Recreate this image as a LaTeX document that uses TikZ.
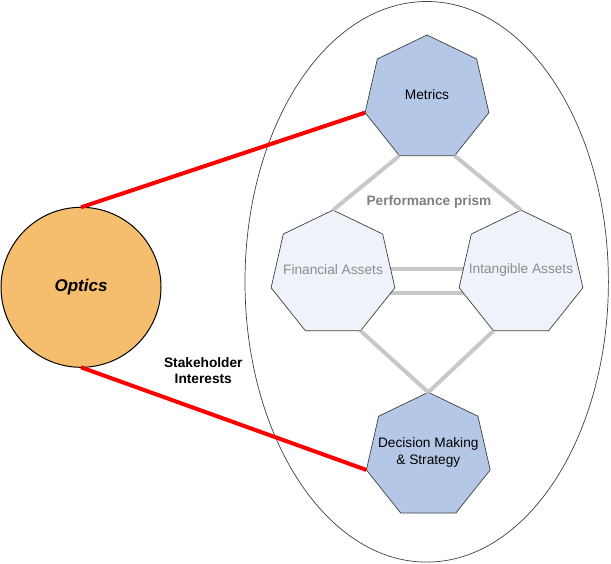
\documentclass[tikz,border=0pt]{standalone}
\usepackage{fontspec}
\setmainfont{Liberation Sans}
\usetikzlibrary{shapes.geometric,backgrounds,calc}
\definecolor{optfill}{HTML}{F5BE6E}
\definecolor{keyfill}{HTML}{B4C7E6}
\definecolor{softfill}{HTML}{EEF2F9}
\definecolor{prismgray}{HTML}{C8C8C8}
\definecolor{softtext}{HTML}{8C8C8C}
\definecolor{titlegray}{HTML}{7F7F7F}
\definecolor{edgegray}{HTML}{404040}
\begin{document}
\begin{tikzpicture}[x=1pt,y=-1pt,
  hept/.style={regular polygon, regular polygon sides=7, minimum size=127pt, inner sep=0pt, outer sep=0pt, draw=edgegray, line width=0.7pt},
  keyhept/.style={hept, fill=keyfill},
  softhept/.style={hept, fill=softfill},
  txt/.style={font=\fontsize{13.7}{16.7}\selectfont, align=center, inner sep=0pt},
  btxt/.style={font=\fontsize{13.7}{15.7}\selectfont\bfseries, align=center, inner sep=0pt},
  redline/.style={draw=red, line width=4pt},
  prismline/.style={draw=prismgray, line width=4pt},
]
\useasboundingbox (0,0) rectangle (611,563);
\draw[line width=0.7pt, draw=edgegray] (426.7,281.8) ellipse [x radius=181.7, y radius=280.3];

\node[circle, minimum size=160pt, inner sep=0pt, outer sep=0pt, fill=optfill, draw=black, line width=1pt,
      font=\fontsize{17}{20}\selectfont\bfseries\itshape] (opt) at (81,287.3) {Optics};

\node[keyhept, label={[txt, yshift=3.5pt]center:Metrics}] (met) at (427,98.5) {};
\node[softhept, label={[txt, text=softtext, yshift=3.6pt]center:Financial Assets}] (fin) at (333,273.6) {};
\node[softhept, label={[txt, text=softtext, yshift=3.6pt]center:Intangible Assets}] (int) at (521,273.6) {};
\node[keyhept, label={[txt, yshift=3.5pt]center:Decision Making\\\& Strategy}] (dec) at (428.3,455.8) {};

\begin{scope}[on background layer]
  \draw[prismline] ([yshift=4.3pt]fin.center) -- ([yshift=4.3pt]int.center);
  \draw[prismline] ([yshift=-19.7pt]fin.center) -- ([yshift=-19.7pt]int.center);
\end{scope}

\draw[prismline] (met.corner 4) -- (fin.corner 1);
\draw[prismline] (met.corner 5) -- (int.corner 1);
\draw[prismline] (fin.corner 5) -- (dec.corner 1);
\draw[prismline] (int.corner 4) -- (dec.corner 1);

\draw[redline] (opt.north) -- (met.corner 3);
\draw[redline] (opt.south) -- (dec.corner 3);

\node[btxt, text=titlegray] (prism) at (429,202) {Performance prism};
\node[btxt] (stake) at (203.3,370.5) {Stakeholder\\Interests};
\end{tikzpicture}
\end{document}
